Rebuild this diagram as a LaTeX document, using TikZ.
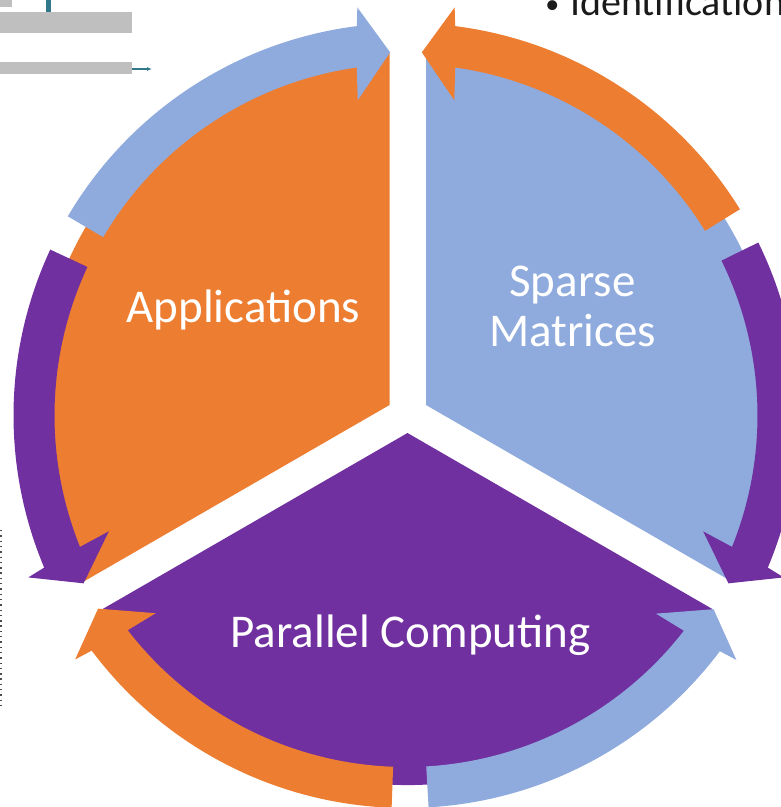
\documentclass[tikz,border=0pt]{standalone}
\usepackage{fontspec}
\setmainfont{Carlito}
\usetikzlibrary{arrows.meta}
\definecolor{cyOrange}{HTML}{ED7D31}
\definecolor{cyBlue}{HTML}{8FAADC}
\definecolor{cyPurple}{HTML}{7030A0}
\definecolor{cyGray}{HTML}{BFBFBF}
\definecolor{cyTeal}{HTML}{31788A}
\definecolor{cyText}{HTML}{1A1A1A}
% #1 colour, #2 tail angle, #3 tip angle, #4 direction (+1 ccw, -1 cw)
\newcommand\cycarrow[4]{%
  \pgfmathsetmacro\cyAo{#3-(#4)*4.7}%
  \pgfmathsetmacro\cyAi{#3-(#4)*5.55}%
  \pgfmathsetmacro\cyWo{#3-(#4)*4.3}%
  \pgfmathsetmacro\cyWi{#3-(#4)*6.2}%
  \fill[#1, shift={(406,-415.5)}] (#2:392.5pt)
    arc[start angle=#2, end angle=\cyAo, radius=392.5pt]
    -- (\cyWo:411pt) -- (#3:363.5pt) -- (\cyWi:319pt) -- (\cyAi:351.5pt)
    arc[start angle=\cyAi, end angle=#2, radius=351.5pt] -- cycle;
}
\tikzset{
  lbl/.style={text=white, font=\fontsize{47}{50}\selectfont, inner sep=0pt},
  sector/.style={draw=none},
}
\begin{document}
\begin{tikzpicture}[x=1pt,y=1pt]
\useasboundingbox (0,0) rectangle (781,-807);
\clip (0,0) rectangle (781,-807);

% cropped slide remnants
\fill[cyGray] (0,0) rectangle (12,-7);
\fill[cyGray] (0,-12) rectangle (132,-33);
\fill[cyGray] (0,-62) rectangle (132,-74);
\fill[cyTeal] (46,0) rectangle (50.5,-12);
\coordinate (tA) at (132,-69);
\coordinate (tB) at (152,-69);
\draw[cyTeal, line width=1.5pt, -{Latex[length=5pt,width=4pt]}] (tA) -- (tB);
\coordinate (dA) at (0.8,-530);
\coordinate (dB) at (0.8,-705);
\draw[gray!60!black, line width=1.5pt, dash pattern=on 1.4pt off 3.9pt] (dA) -- (dB);
\node[anchor=base west, inner sep=0pt, text=cyText, font=\fontsize{40}{44}\selectfont] (ident) at (570,-15) {\llap{\raisebox{2pt}{\scalebox{0.7}{•}}\hspace{11pt}}Identification};

% sectors
\fill[cyOrange, sector] (389.5,-405) -- ++(90:352pt) arc[start angle=90, end angle=210, radius=352pt] -- cycle;
\fill[cyBlue, sector] (426,-405) -- ++(-30:352pt) arc[start angle=-30, end angle=90, radius=352pt] -- cycle;
\fill[cyPurple, sector] (407.5,-433) -- ++(210:352pt) arc[start angle=210, end angle=330, radius=352pt] -- cycle;

% circular arrows
\cycarrow{cyBlue}{149.5}{92.5}{-1}
\cycarrow{cyOrange}{31.7}{87.5}{1}
\cycarrow{cyPurple}{26.15}{-27.5}{-1}
\cycarrow{cyPurple}{155}{207.5}{1}
\cycarrow{cyOrange}{267.9}{212.1}{-1}
\cycarrow{cyBlue}{273.3}{327.8}{1}

% labels
\node[lbl, anchor=base] (apps) at (243.5,-322) {Applications};
\node[lbl, align=center] (sparse) at (572.5,-306.5) {Sparse\\Matrices};
\node[lbl, anchor=base] (par) at (410.5,-647) {Parallel Computing};
\end{tikzpicture}
\end{document}
